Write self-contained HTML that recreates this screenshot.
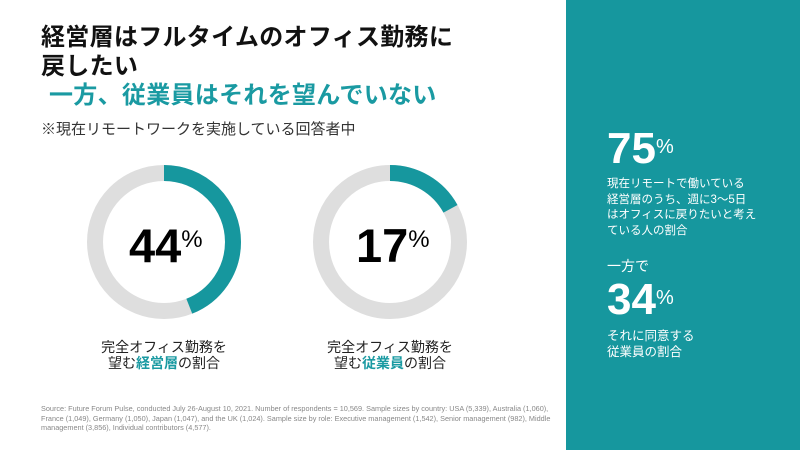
<!DOCTYPE html>
<html><head><meta charset="utf-8"><style>
body{margin:0;width:800px;height:450px;position:relative;background:#fff;overflow:hidden;font-family:"Liberation Sans","Noto Sans CJK JP",sans-serif;}
.a{position:absolute;white-space:nowrap;}
.t{font-weight:bold;font-size:24px;letter-spacing:0.3px;color:#111;line-height:30px;}
.teal{color:#1a9aa2;}
.panel{position:absolute;left:566px;top:0;width:234px;height:450px;background:#16979e;color:#fff;}
.big{font-weight:bold;font-size:44px;line-height:44px;}
.big sup{font-size:20px;font-weight:normal;vertical-align:top;position:relative;top:-2px;}
.pct{font-weight:bold;font-size:47px;color:#000;line-height:47px;}
.pct sup{font-size:24px;font-weight:normal;vertical-align:top;position:relative;top:-6px;}
.lab{font-size:14px;line-height:16px;color:#222;text-align:center;width:200px;}
</style></head><body>
<div class="a t" style="left:41px;top:23px;">経営層はフルタイムのオフィス勤務に</div>
<div class="a t" style="left:41px;top:52px;">戻したい</div>
<div class="a t teal" style="left:49px;top:81px;">一方、従業員はそれを望んでいない</div>
<div class="a" style="left:41px;top:118px;font-size:15px;color:#333;">※現在リモートワークを実施している回答者中</div>

<svg class="a" style="left:0;top:0" width="566" height="450">
<g transform="translate(164,242)">
<circle r="69" fill="none" stroke="#dedede" stroke-width="16"/>
<circle r="69" fill="none" stroke="#16979e" stroke-width="16" stroke-dasharray="190.8 1000" transform="rotate(-90)"/>
</g>
<g transform="translate(390,242)">
<circle r="69" fill="none" stroke="#dedede" stroke-width="16"/>
<circle r="69" fill="none" stroke="#16979e" stroke-width="16" stroke-dasharray="73.7 1000" transform="rotate(-90)"/>
</g>
</svg>
<div class="a pct" style="left:129px;top:222px;">44<sup>%</sup></div>
<div class="a pct" style="left:356px;top:222px;">17<sup>%</sup></div>
<div class="a lab" style="left:64px;top:339px;">完全オフィス勤務を<br>望む<b class="teal">経営層</b>の割合</div>
<div class="a lab" style="left:290px;top:339px;">完全オフィス勤務を<br>望む<b class="teal">従業員</b>の割合</div>

<div class="a" style="left:41px;top:404px;font-size:7.3px;line-height:9.5px;color:#888;white-space:normal;width:510px;">Source: Future Forum Pulse, conducted July 26-August 10, 2021. Number of respondents = 10,569. Sample sizes by country: USA (5,339), Australia (1,060), France (1,049), Germany (1,050), Japan (1,047), and the UK (1,024). Sample size by role: Executive management (1,542), Senior management (982), Middle management (3,856), Individual contributors (4,577).</div>

<div class="panel">
<div class="a big" style="left:41px;top:127px;">75<sup>%</sup></div>
<div class="a" style="left:41px;top:177px;font-size:11.5px;line-height:15.7px;">現在リモートで働いている<br>経営層のうち、週に3～5日<br>はオフィスに戻りたいと考え<br>ている人の割合</div>
<div class="a" style="left:41px;top:256px;font-size:14px;">一方で</div>
<div class="a big" style="left:41px;top:278px;">34<sup>%</sup></div>
<div class="a" style="left:41px;top:328px;font-size:12.5px;line-height:16px;">それに同意する<br>従業員の割合</div>
</div>
</body></html>
